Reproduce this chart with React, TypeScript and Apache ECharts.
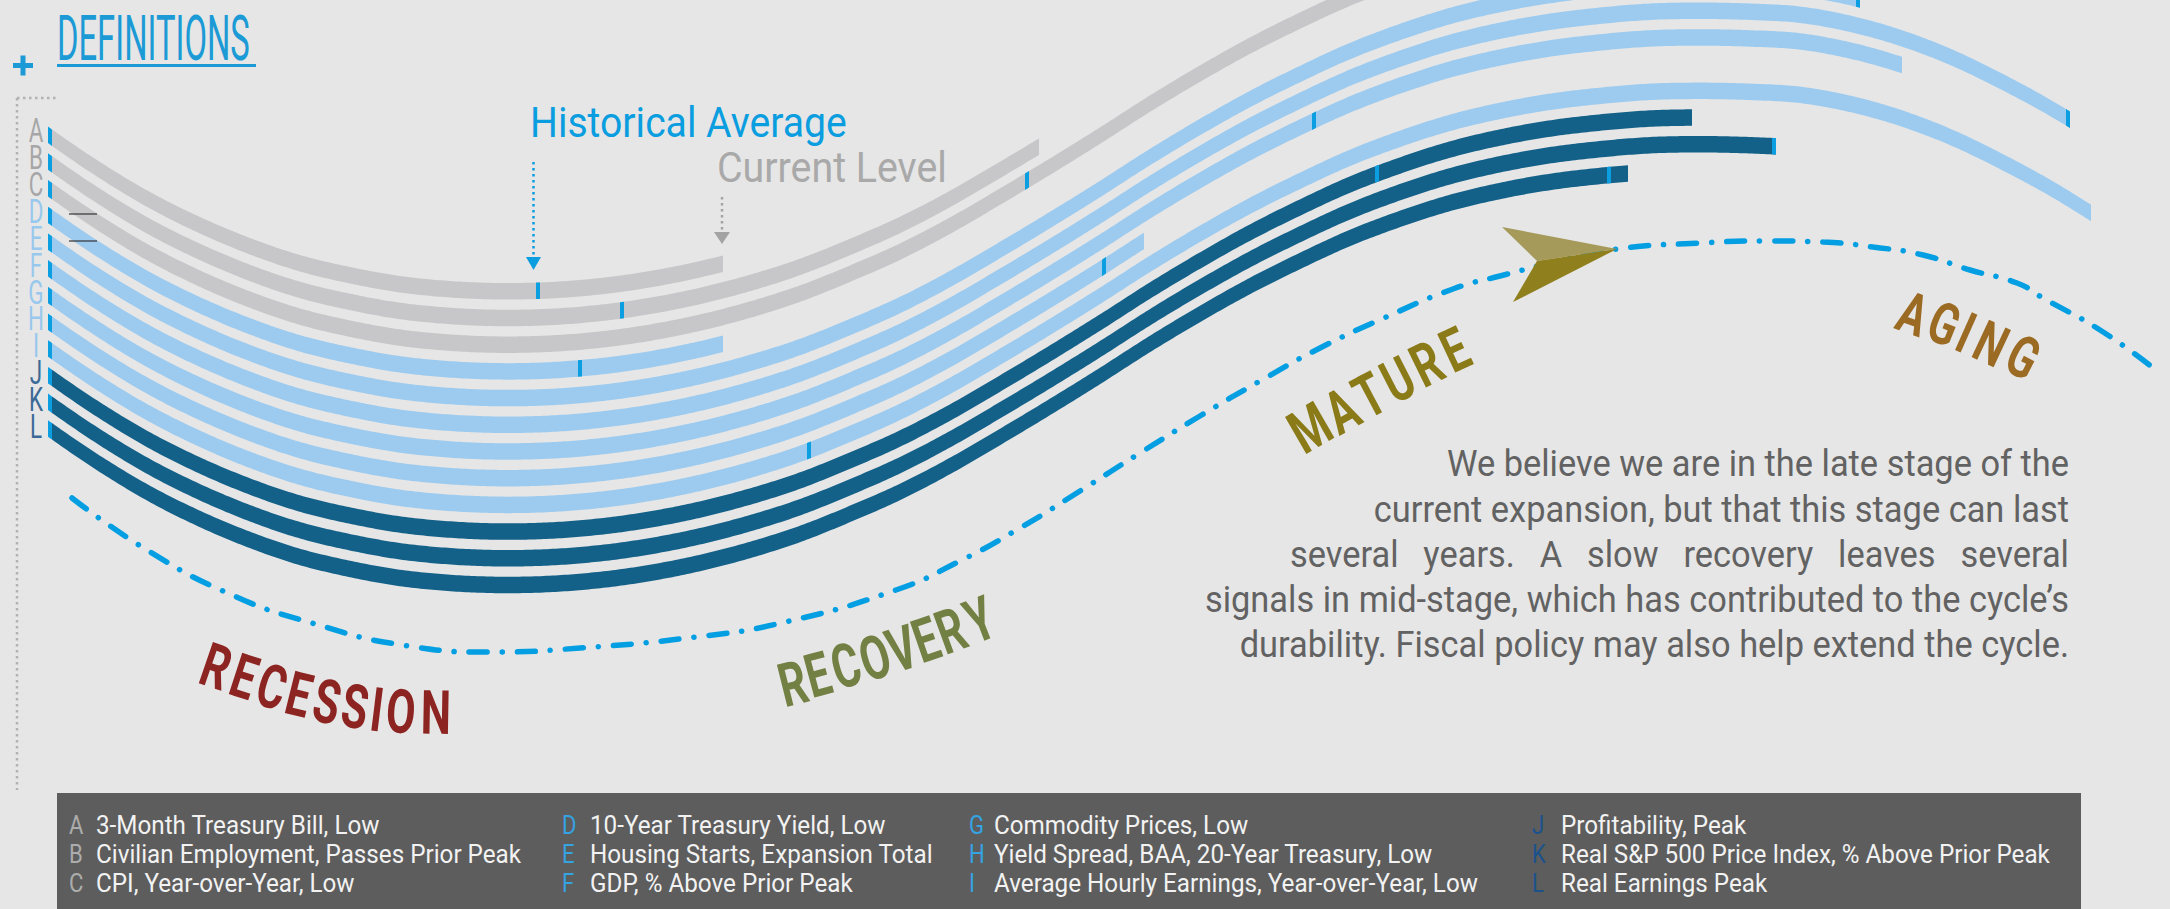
import React, { useEffect, useRef } from 'react';
import * as echarts from 'echarts';

const W = 2170;
const H = 909;

// ---- data ----
// top edge of band A, sampled every 50px (pixel frame of the 2170x909 image)
const BASE_X = [-100, -50, 0, 50, 100, 150, 200, 250, 300, 350, 400, 450, 500, 550, 600, 650, 700, 750, 800, 850, 900, 950, 1000, 1050, 1100, 1150, 1200, 1250, 1300, 1350, 1400, 1450, 1500, 1550, 1600, 1650, 1700, 1750, 1800, 1850, 1900, 1950, 2000, 2050, 2100, 2150, 2200, 2250];
const BASE_TOP = [9, 51, 91, 128, 162, 192, 217, 238, 255, 267, 276, 281, 283, 282, 278, 271, 261, 248, 232, 212, 190, 164, 135, 105, 74, 42, 12, -16, -41, -64, -83, -99, -111, -120, -126, -130, -131, -130, -127, -118, -104, -85, -61, -34, -3, 31, 67, 104];

const BAND_LETTERS = ['A', 'B', 'C', 'D', 'E', 'F', 'G', 'H', 'I', 'J', 'K', 'L'];
const BAND_GROUP = ['gray', 'gray', 'gray', 'light', 'light', 'light', 'light', 'light', 'light', 'dark', 'dark', 'dark'];
const BAND_START = 52;
const BAND_CURRENT = [723, 1039, 1500, 723, 1860, 2070, 1902, 1144, 2091, 1692, 1776, 1628];
const BAND_AVERAGE = [536, 620, 1025, 578, 1856, 2066, 1312, 1102, 807, 1375, 1772, 1607];
const BAND_NAMES = [
  '3-Month Treasury Bill, Low',
  'Civilian Employment, Passes Prior Peak',
  'CPI, Year-over-Year, Low',
  '10-Year Treasury Yield, Low',
  'Housing Starts, Expansion Total',
  'GDP, % Above Prior Peak',
  'Commodity Prices, Low',
  'Yield Spread, BAA, 20-Year Treasury, Low',
  'Average Hourly Earnings, Year-over-Year, Low',
  'Profitability, Peak',
  'Real S&P 500 Price Index, % Above Prior Peak',
  'Real Earnings Peak',
];

// dash-dot business-cycle path
const CYCLE_PATH = [
  [72, 498], [147, 550], [232, 595], [312, 623], [402, 645], [494, 652], [580, 648], [696, 637],
  [781, 623], [896, 590], [960, 561], [1020, 528], [1080, 491], [1140, 453], [1200, 416],
  [1260, 381], [1320, 348], [1384, 318], [1453, 289], [1500, 276], [1560, 261], [1617, 249],
  [1700, 243], [1767, 241], [1823, 242], [1873, 247], [1923, 255], [1970, 270], [2017, 283],
  [2043, 298], [2100, 330], [2152, 367],
];

const PARAGRAPH = [
  'We believe we are in the late stage of the',
  'current expansion, but that this stage can last',
  'several years. A slow recovery leaves several',
  'signals in mid-stage, which has contributed to the cycle\u2019s',
  'durability. Fiscal policy may also help extend the cycle.',
];

// ---- styling ----
const BG = '#e6e6e6';
const COLORS: Record<string, string> = { gray: '#c7c7c9', light: '#9dcbef', dark: '#136089' };
const LETTER_COLORS: Record<string, string> = { gray: '#a6a6a8', light: '#98c8ed', dark: '#3b6a97' };
const LEGEND_LETTER_COLORS: Record<string, string> = { gray: '#acacac', light: '#35a2e2', dark: '#1c528c' };
const TICK = '#0b9ee1';
const SP = 26.7;
const TH = 16.5;
const FONT = 'Roboto';

function baseY(x: number): number {
  const u = (x - BASE_X[0]) / (BASE_X[1] - BASE_X[0]);
  const k = Math.floor(u);
  const t = u - k;
  const g = (j: number) => BASE_TOP[Math.max(0, Math.min(BASE_TOP.length - 1, j))];
  const p0 = g(k - 1), p1 = g(k), p2 = g(k + 1), p3 = g(k + 2);
  return 0.5 * (2 * p1 + (-p0 + p2) * t + (2 * p0 - 5 * p1 + 4 * p2 - p3) * t * t + (-p0 + 3 * p1 - 3 * p2 + p3) * t * t * t);
}

function bandPoints(api: any, i: number, x0: number, x1: number) {
  const top: number[][] = [];
  const bot: number[][] = [];
  const n = Math.max(2, Math.ceil((x1 - x0) / 3));
  for (let s = 0; s <= n; s++) {
    const x = x0 + ((x1 - x0) * s) / n;
    const y = baseY(x) + i * SP;
    top.push(api.coord([x, y]));
    bot.push(api.coord([x, y + TH]));
  }
  return top.concat(bot.reverse());
}

function measure(text: string, font: string): number {
  const c = document.createElement('canvas').getContext('2d');
  if (!c) return text.length * 15;
  c.font = font;
  return c.measureText(text).width;
}

function txt(text: string, x: number, y: number, o: any) {
  return {
    type: 'text',
    x,
    y,
    z: 50,
    scaleX: o.sx ?? 1,
    rotation: o.rot ? (o.rot * Math.PI) / 180 : 0,
    style: {
      text,
      fill: o.fill,
      fontSize: o.fs,
      fontFamily: o.ff ?? FONT,
      fontWeight: o.fw ?? 'normal',
      align: o.align ?? 'left',
      verticalAlign: o.va ?? 'middle',
    },
  };
}

function phaseWord(word: string, pos: number[][], fill: string, fs: number, sx: number) {
  return word.split('').map((ch, k) =>
    txt(ch, pos[k][0], pos[k][1], { fill, fs, sx, rot: pos[k][2], fw: 'bold', align: 'center' })
  );
}

function buildOption() {
  const graphic: any[] = [];

  // header
  graphic.push(txt('DEFINITIONS', 57, 38, { fill: '#1b9ad6', fs: 63, sx: 0.52 }));
  graphic.push({ type: 'rect', z: 50, shape: { x: 57, y: 64, width: 199, height: 3 }, style: { fill: '#1b9ad6' } });
  graphic.push({ type: 'rect', z: 50, shape: { x: 13, y: 63, width: 20, height: 5 }, style: { fill: '#1b9ad6' } });
  graphic.push({ type: 'rect', z: 50, shape: { x: 20.5, y: 55.5, width: 5, height: 20 }, style: { fill: '#1b9ad6' } });

  // dotted bracket
  const dotted = { stroke: '#b2b2b2', lineWidth: 2.5, lineDash: [2.5, 3.5] };
  graphic.push({ type: 'line', z: 5, shape: { x1: 17, y1: 98, x2: 56, y2: 98 }, style: dotted });
  graphic.push({ type: 'line', z: 5, shape: { x1: 17, y1: 98, x2: 17, y2: 790 }, style: dotted });

  // band letters
  BAND_LETTERS.forEach((l, i) => {
    graphic.push(txt(l, 36, 131 + i * 26.9, { fill: LETTER_COLORS[BAND_GROUP[i]], fs: 33, sx: 0.68 }));
  });
  BAND_LETTERS.forEach((_, i) => {
    graphic[graphic.length - 12 + i].style.align = 'center';
  });
  // small black marks
  graphic.push({ type: 'line', z: 50, shape: { x1: 69, y1: 214, x2: 97, y2: 214 }, style: { stroke: '#333', lineWidth: 1.2 } });
  graphic.push({ type: 'line', z: 50, shape: { x1: 69, y1: 241, x2: 97, y2: 241 }, style: { stroke: '#333', lineWidth: 1.2 } });

  // annotations
  graphic.push(txt('Historical Average', 530, 122, { fill: '#0a9ddf', fs: 43, sx: 0.91 }));
  graphic.push(txt('Current Level', 717, 167, { fill: '#a9a9a9', fs: 43, sx: 0.915 }));
  graphic.push({ type: 'line', z: 50, shape: { x1: 533.5, y1: 162, x2: 533.5, y2: 257 }, style: { stroke: '#0a9ddf', lineWidth: 2.5, lineDash: [2.5, 3.5] } });
  graphic.push({ type: 'polygon', z: 50, shape: { points: [[526, 257], [541, 257], [533.5, 270]] }, style: { fill: '#0a9ddf' } });
  graphic.push({ type: 'line', z: 50, shape: { x1: 722, y1: 197, x2: 722, y2: 232 }, style: { stroke: '#a3a3a3', lineWidth: 2.5, lineDash: [2.5, 3.5] } });
  graphic.push({ type: 'polygon', z: 50, shape: { points: [[714, 232], [730, 232], [722, 244]] }, style: { fill: '#a3a3a3' } });

  // arrow
  graphic.push({ type: 'polygon', z: 60, shape: { points: [[1617, 249], [1502, 227], [1537, 261]] }, style: { fill: '#a69a5b' } });
  graphic.push({ type: 'polygon', z: 60, shape: { points: [[1617, 249], [1537, 261], [1513, 302]] }, style: { fill: '#8f7f1d' } });

  // phase labels
  graphic.push(...phaseWord('RECESSION', [
    [216, 667, -19], [244, 677, -18], [272, 687, -16], [299, 695, -14], [327, 702, -12],
    [355, 707, -9], [377, 710, -7], [401, 712, -4], [436, 713, -1],
  ], '#8c2421', 61, 0.7));
  graphic.push(...phaseWord('RECOVERY', [
    [793, 684, 14], [818, 675, 15], [846, 666, 16], [875, 658, 17], [902, 649, 18],
    [926, 640, 19], [951, 631, 20], [980, 620, 21],
  ], '#738043', 61, 0.7));
  graphic.push(...phaseWord('MATURE', [
    [1310, 428, 30], [1342, 411, 29], [1370, 396, 28], [1398, 380, 27], [1427, 364, 26], [1455, 350, 25],
  ], '#8b7b18', 60, 0.72));
  graphic.push(...phaseWord('AGING', [
    [1913, 314, -20], [1944, 324, -22], [1966, 333, -24], [1991, 344, -25], [2023, 357, -27],
  ], '#9b6b24', 58, 0.72));

  // paragraph
  const pFs = 37, pSx = 0.93, pRight = 2069, pFill = '#626262';
  const baseLines = [464, 510, 555, 600, 645];
  PARAGRAPH.forEach((line, k) => {
    if (k === 2) {
      const words = line.split(' ');
      const font = `${pFs}px ${FONT}`;
      const ws = words.map((w) => measure(w, font) * pSx);
      const left = 1290;
      const gap = (pRight - left - ws.reduce((a, b) => a + b, 0)) / (words.length - 1);
      let x = left;
      words.forEach((w, j) => {
        graphic.push(txt(w, x, baseLines[k], { fill: pFill, fs: pFs, sx: pSx }));
        x += ws[j] + gap;
      });
    } else {
      graphic.push(txt(line, pRight, baseLines[k], { fill: pFill, fs: pFs, sx: pSx, align: 'right' }));
    }
  });

  // legend box
  graphic.push({ type: 'rect', z: 40, shape: { x: 57, y: 793, width: 2024, height: 120 }, style: { fill: '#5d5d5d' } });
  const colLetterX = [69, 562, 969, 1532];
  const colTextX = [96, 590, 994, 1561];
  const rowY = [825, 854, 883];
  BAND_LETTERS.forEach((l, i) => {
    const c = Math.floor(i / 3), r = i % 3;
    graphic.push(txt(l, colLetterX[c], rowY[r], { fill: LEGEND_LETTER_COLORS[BAND_GROUP[i]], fs: 26, sx: 0.85 }));
    graphic.push(txt(BAND_NAMES[i], colTextX[c], rowY[r], { fill: '#f2f2f2', fs: 25, sx: 0.97 }));
  });

  return {
    animation: false,
    backgroundColor: BG,
    grid: { left: 0, right: 0, top: 0, bottom: 0 },
    xAxis: { type: 'value', min: 0, max: W, show: false },
    yAxis: { type: 'value', min: 0, max: H, inverse: true, show: false },
    graphic,
    series: [
      {
        type: 'custom',
        coordinateSystem: 'cartesian2d',
        clip: false,
        z: 2,
        data: BAND_LETTERS.map((_, i) => [i, BAND_CURRENT[i], BAND_AVERAGE[i]]),
        renderItem: (params: any, api: any) => {
          const i = api.value(0);
          const end = api.value(1);
          const avg = api.value(2);
          const color = COLORS[BAND_GROUP[i]];
          return {
            type: 'group',
            children: [
              { type: 'polygon', shape: { points: bandPoints(api, i, BAND_START, end) }, style: { fill: color } },
              { type: 'polygon', shape: { points: bandPoints(api, i, BAND_START - 4, BAND_START) }, style: { fill: TICK } },
              { type: 'polygon', shape: { points: bandPoints(api, i, avg, avg + 4) }, style: { fill: TICK } },
            ],
          };
        },
      },
      {
        type: 'line',
        z: 3,
        data: CYCLE_PATH,
        smooth: 0.5,
        showSymbol: false,
        silent: true,
        lineStyle: { color: '#049fe2', width: 5.5, type: [18, 15, 0.1, 15], cap: 'round' },
      },
    ],
  };
}

export default function App() {
  const ref = useRef<HTMLDivElement>(null);
  useEffect(() => {
    if (!ref.current) return;
    const chart = echarts.init(ref.current, null, { renderer: 'svg' });
    chart.setOption(buildOption() as any);
    return () => chart.dispose();
  }, []);
  return <div ref={ref} style={{ position: 'fixed', left: 0, top: 0, width: W, height: H }} />;
}
